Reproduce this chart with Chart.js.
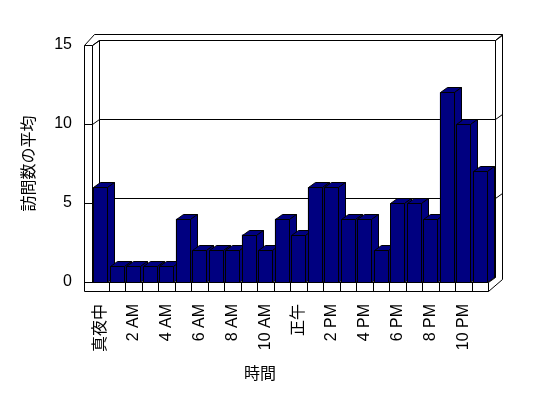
<!DOCTYPE html>
<html>
<head>
<meta charset="utf-8">
<script src="https://cdn.jsdelivr.net/npm/chart.js@4/dist/chart.umd.min.js"></script>
<style>
  html, body { margin: 0; padding: 0; background: #fff; }
  #wrap { width: 548px; height: 398px; }
</style>
</head>
<body>
<div id="wrap"><canvas id="c" width="548" height="398"></canvas></div>
<script>
// ---- data ----
const categories = ["真夜中","1 AM","2 AM","3 AM","4 AM","5 AM","6 AM","7 AM","8 AM","9 AM","10 AM","11 AM",
                    "正午","1 PM","2 PM","3 PM","4 PM","5 PM","6 PM","7 PM","8 PM","9 PM","10 PM","11 PM"];
const visits = [6,1,1,1,1,4,2,2,2,3,2,4,3,6,6,4,4,2,5,5,4,12,10,7];
const yTicks = [0,5,10,15];
const yTitle = "訪問数の平均";
const xTitle = "時間";

const FONT = "'Liberation Sans', 'Noto Sans CJK JP', sans-serif";
const BAR = "#000080";
const DX = 7, DY = -5;        // depth offset
const WL = 8, WB = 9;         // wall / floor thickness

function line(ctx, pts) {
  ctx.beginPath();
  ctx.moveTo(pts[0][0], pts[0][1]);
  for (let i = 1; i < pts.length; i++) ctx.lineTo(pts[i][0], pts[i][1]);
  ctx.stroke();
}

const frame3d = {
  id: 'frame3d',
  beforeDatasetsDraw(chart) {
    const ctx = chart.ctx, ca = chart.chartArea, ys = chart.scales.y, xs = chart.scales.x;
    const L = Math.round(ca.left) + 0.5, R = Math.round(ca.right) + 0.5;
    const T = Math.round(ca.top) + 0.5, B = Math.round(ca.bottom) + 0.5;
    ctx.save();
    ctx.strokeStyle = '#000';
    ctx.lineWidth = 1;
    // outer outline (walls with thickness)
    line(ctx, [[L - WL, B + WB], [L - WL, T], [L - WL + 10, T - 11], [R + DX + 7, T - 11],
               [R + DX + 7, B + DY + 2], [R, B + WB], [L - WL, B + WB]]);
    // inner back wall
    line(ctx, [[L, B], [L, T], [L + DX, T + DY], [R + DX, T + DY], [R + DX, B + DY]]);
    line(ctx, [[L + DX, T + DY], [L + DX, B + DY]]);
    line(ctx, [[R + DX, T + DY], [R + DX + 7, T - 11]]);
    // floor
    line(ctx, [[L - WL, B], [R, B], [R + DX, B + DY], [L + DX, B + DY], [L, B]]);
    line(ctx, [[R, B], [R, B + WB]]);
    // floor ticks between categories
    const n = categories.length;
    for (let i = 1; i < n; i++) {
      const x = Math.round((xs.getPixelForValue(i - 1) + xs.getPixelForValue(i)) / 2) + 0.5;
      line(ctx, [[x, B], [x, B + WB]]);
    }
    // y ticks + gridlines on back wall
    yTicks.forEach(v => {
      if (v === 0) return;
      const y = Math.round(ys.getPixelForValue(v)) + 0.5;
      line(ctx, [[L - WL, y], [L, y], [L + DX, y + DY], [R + DX, y + DY], [R + DX + 7, y + DY - 5]]);
    });
    ctx.restore();
  },
  afterDatasetsDraw(chart) {
    const ctx = chart.ctx;
    const meta = chart.getDatasetMeta(0);
    ctx.save();
    ctx.strokeStyle = '#000';
    ctx.lineWidth = 1;
    ctx.fillStyle = BAR;
    ctx.lineJoin = 'miter';
    meta.data.forEach(el => {
      const p = el.getProps(['x', 'y', 'base', 'width'], true);
      const l = Math.round(p.x - p.width / 2) + 0.5, r = Math.round(p.x + p.width / 2) + 0.5;
      const t = Math.round(p.y) + 0.5, b = Math.round(p.base) + 0.5;
      const polys = [
        [[l, t], [l + DX, t + DY], [r + DX, t + DY], [r, t]],
        [[r, t], [r + DX, t + DY], [r + DX, b + DY], [r, b]],
        [[l, t], [r, t], [r, b], [l, b]]
      ];
      polys.forEach(pg => {
        ctx.beginPath();
        ctx.moveTo(pg[0][0], pg[0][1]);
        for (let i = 1; i < pg.length; i++) ctx.lineTo(pg[i][0], pg[i][1]);
        ctx.closePath();
        ctx.fill();
        ctx.stroke();
      });
    });
    ctx.restore();
  },
  afterDraw(chart) {
    const ctx = chart.ctx, ca = chart.chartArea;
    ctx.save();
    ctx.fillStyle = '#000';
    ctx.font = "16px " + FONT;
    ctx.textAlign = 'center';
    ctx.textBaseline = 'middle';
    ctx.fillText(xTitle, (ca.left + ca.right) / 2 - 30, 375);
    ctx.restore();
  }
};

new Chart(document.getElementById('c'), {
  type: 'bar',
  data: {
    labels: categories,
    datasets: [{
      data: visits,
      backgroundColor: BAR,
      borderColor: '#000',
      borderWidth: 0,
      barPercentage: 0.83,
      categoryPercentage: 1.0
    }]
  },
  options: {
    responsive: false,
    animation: false,
    devicePixelRatio: 1,
    layout: { padding: { left: 0, right: 60, top: 45, bottom: 0 } },
    plugins: { legend: { display: false }, tooltip: { enabled: false }, title: { display: false } },
    scales: {
      x: {
        grid: { display: false, drawTicks: false },
        border: { display: false },
        ticks: {
          autoSkip: false, maxRotation: 90, minRotation: 90, padding: 22,
          color: '#000', font: { size: 16, family: FONT },
          callback: function(v, i) { return i % 2 === 0 ? this.getLabelForValue(v) : ''; }
        },
        afterFit: s => { s.height = 116; }
      },
      y: {
        min: 0, max: 15,
        grid: { display: false, drawTicks: false },
        border: { display: false },
        ticks: { stepSize: 5, padding: 20, color: '#000', font: { size: 16, family: FONT } },
        title: { display: true, text: yTitle, color: '#000', font: { size: 16, family: FONT }, padding: { top: 20, bottom: 0 } },
        afterFit: s => { s.width = 92; }
      }
    }
  },
  plugins: [frame3d]
});
</script>
</body>
</html>
